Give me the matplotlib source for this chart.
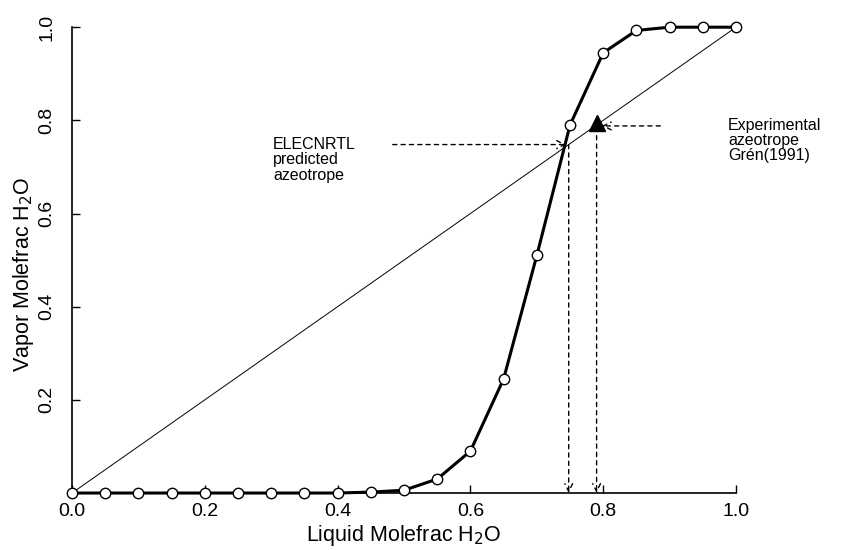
import matplotlib
matplotlib.use("Agg")
import matplotlib.pyplot as plt

plt.rcParams['font.family'] = ['Liberation Sans', 'DejaVu Sans']

x_liquid = [0.0, 0.05, 0.10, 0.15, 0.20, 0.25, 0.30, 0.35, 0.40, 0.45, 0.50,
            0.55, 0.60, 0.65, 0.70, 0.75, 0.80, 0.85, 0.90, 0.95, 1.0]
y_vapor = [0.0, 0.0, 0.0, 0.0, 0.0, 0.0, 0.0, 0.0, 0.0, 0.002, 0.006,
           0.03, 0.09, 0.245, 0.51, 0.79, 0.945, 0.993, 1.0, 1.0, 1.0]
diag = [0.0, 1.0]
pred_azeo = (0.748, 0.748)
exp_azeo = (0.79, 0.795)
x_ticks = [0.0, 0.2, 0.4, 0.6, 0.8, 1.0]
y_ticks = [0.2, 0.4, 0.6, 0.8, 1.0]

fig = plt.figure(figsize=(8.47, 5.5), dpi=100)
ax = fig.add_axes([0.085, 0.1036, 0.784, 0.847])

ax.plot(diag, diag, color='black', lw=0.7)
ax.plot(x_liquid, y_vapor, color='black', lw=2.2, marker='o', markersize=7.5,
        markerfacecolor='white', markeredgecolor='black', markeredgewidth=1.0,
        clip_on=False, zorder=3)
ax.plot([exp_azeo[0]], [exp_azeo[1]], marker='^', color='black', markersize=11,
        clip_on=False, zorder=4)

arrow_kw = dict(arrowstyle='->', color='black', lw=1.0, linestyle=(0, (3, 3)),
                shrinkA=0, shrinkB=0, mutation_scale=14)
# predicted azeotrope
ax.annotate('', xy=(pred_azeo[0] - 0.004, pred_azeo[1]), xytext=(0.483, pred_azeo[1]),
            arrowprops=arrow_kw)
ax.annotate('', xy=(pred_azeo[0], 0.0), xytext=pred_azeo, arrowprops=arrow_kw)
# experimental azeotrope
ax.annotate('', xy=(exp_azeo[0] + 0.008, exp_azeo[1] - 0.007), xytext=(0.886, exp_azeo[1] - 0.007),
            arrowprops=arrow_kw)
ax.annotate('', xy=(exp_azeo[0], 0.0), xytext=(exp_azeo[0], exp_azeo[1] - 0.01),
            arrowprops=arrow_kw)

ax.text(0.303, 0.765, 'ELECNRTL\npredicted\nazeotrope', fontsize=11.5, va='top', ha='left',
        linespacing=1.05)
ax.text(0.988, 0.806, 'Experimental\nazeotrope\nGrén(1991)', fontsize=11.5, va='top', ha='left',
        linespacing=1.0)

ax.set_xlim(0, 1)
ax.set_ylim(0, 1)
ax.set_xticks(x_ticks)
ax.set_xticklabels([f'{v:.1f}' for v in x_ticks])
ax.set_yticks(y_ticks)
ax.set_yticklabels([f'{v:.1f}' for v in y_ticks], rotation=90, va='center')
ax.tick_params(direction='in', length=6, width=1)
ax.tick_params(axis='x', labelsize=14, pad=7)
ax.tick_params(axis='y', labelsize=14, pad=12)
ax.spines['top'].set_visible(False)
ax.spines['right'].set_visible(False)
for s in ['left', 'bottom']:
    ax.spines[s].set_linewidth(1.2)

ax.set_xlabel('Liquid Molefrac H$_2$O', fontsize=15.5)
ax.xaxis.set_label_coords(0.5, -0.064)
ax.set_ylabel('Vapor Molefrac H$_2$O', fontsize=15.5)
ax.yaxis.set_label_coords(-0.054, 0.47)

fig.savefig('out.png', dpi=100)
